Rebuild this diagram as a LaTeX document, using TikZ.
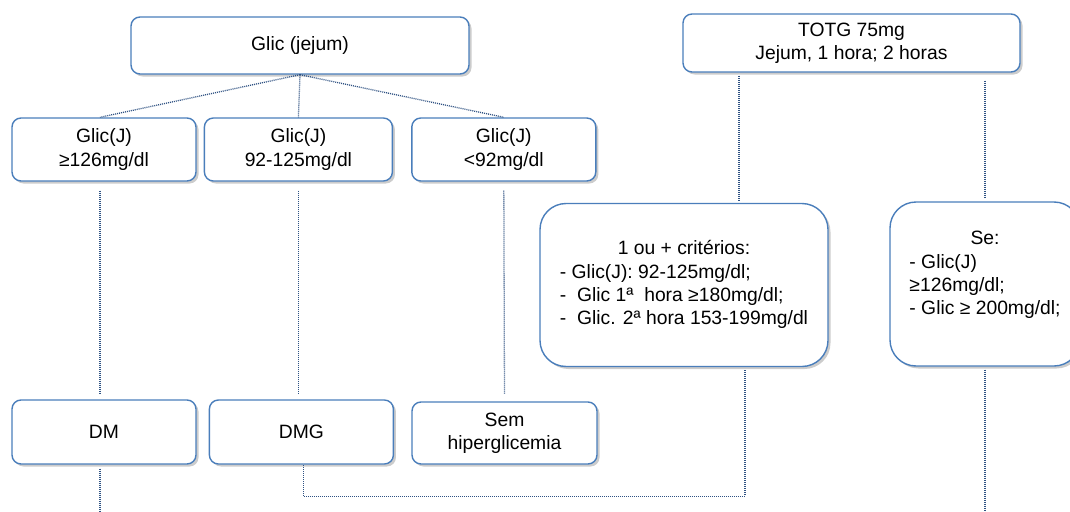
\documentclass[tikz,border=0pt]{standalone}
\usepackage{fontspec}
\setmainfont{Liberation Sans}
\usetikzlibrary{positioning,shadows,calc}
\definecolor{edge}{HTML}{4A7EBB}
\definecolor{dots}{HTML}{2F5283}
\newcommand{\bodyfont}{\fontsize{19.3}{23.3}\selectfont}
\tikzset{
  box/.style={draw=edge,line width=1.4pt,rounded corners=9pt,fill=white,align=center,
    inner sep=4pt,minimum width=184pt,minimum height=63pt,font=\bodyfont,
    drop shadow={opacity=0.4,shadow xshift=2.5pt,shadow yshift=-2.5pt}},
  bigbox/.style={box,rounded corners=26pt,minimum height=163pt},
  dotl/.style={draw=dots,line width=1.3pt,dash pattern=on 1pt off 1pt},
}

\begin{document}
\begin{tikzpicture}[x=1pt,y=-1pt]
  \useasboundingbox (0,0) rectangle (1070,511);
  % top row
  \node[box,minimum width=338pt,minimum height=57pt] (jejum) at (300,45.5) {Glic (jejum)};
  \node[box,minimum width=337pt,minimum height=58pt] (totg) at (851.5,43) {TOTG 75mg\\Jejum, 1 hora; 2 horas};
  % fasting branches
  \node[box] (ge126) at (104,149.5) {Glic(J)\\≥126mg/dl};
  \node[box,minimum width=188pt,right=7pt of ge126] (mid) {Glic(J)\\92-125mg/dl};
  \node[box,right=18pt of mid] (lt92) {Glic(J)\\<92mg/dl};
  % OGTT criteria
  \node[bigbox,minimum width=288pt] (crit) at (684,285)
       {\begin{tabular}{@{}l@{}}\multicolumn{1}{@{}c@{}}{1 ou + critérios:}\\
        - Glic(J): 92-125mg/dl;\\
        -\ \ Glic 1ª\ \ hora ≥180mg/dl;\\
        -\ \ Glic. 2ª hora 153-199mg/dl\end{tabular}};
  \node[bigbox,minimum width=190pt,minimum height=164pt] (se) at (985,284)
       {\begin{tabular}{@{}l@{}}\multicolumn{1}{@{}c@{}}{Se:}\\
        - Glic(J)\\
        ≥126mg/dl;\\
        - Glic ≥ 200mg/dl;\\[18pt]\end{tabular}};
  % outcomes
  \node[box,minimum height=64pt] (dm) at (104,432) {DM};
  \node[box,minimum height=64pt,right=12pt of dm] (dmg) {DMG};
  \node[box,minimum width=185pt,minimum height=62pt] (sem) at (504.5,433) {Sem\\hiperglicemia};
  % helper points
  \coordinate (t1) at ([xshift=55pt]crit.north);
  \coordinate (c1) at ([xshift=61pt]crit.south);
  \coordinate (l1) at ([xshift=-4pt]ge126.south);
  \coordinate (dmend) at ([xshift=-4pt]dm.south |- 0,515);
  \coordinate (seend) at (se.south |- 0,515);
  % connectors
  \draw[dotl] (jejum.south) -- ([xshift=-4pt]ge126.north);
  \draw[dotl] (jejum.south) -- (mid.north);
  \draw[dotl] (jejum.south) -- (lt92.north);
  \draw[dotl,shorten <=9pt,shorten >=5pt] (l1) -- (l1 |- dm.north);
  \draw[dotl,shorten <=9pt,shorten >=5pt] (mid.south) -- (mid.south |- dmg.north);
  \draw[dotl,shorten <=9pt,shorten >=7pt] (lt92.south) -- (sem.north);
  \draw[dotl,shorten <=3pt,shorten >=3pt] (totg.south -| t1) -- (t1);
  \draw[dotl,shorten <=8pt,shorten >=3pt] (totg.south -| se.north) -- (se.north);
  \draw[dotl,shorten <=3pt] (c1) -- ++(0,129) -| ([xshift=2pt]dmg.south);
  \draw[dotl,shorten <=4pt] (l1 |- dm.south) -- (dmend);
  \draw[dotl,shorten <=3pt] (se.south) -- (seend);
\end{tikzpicture}
\end{document}
